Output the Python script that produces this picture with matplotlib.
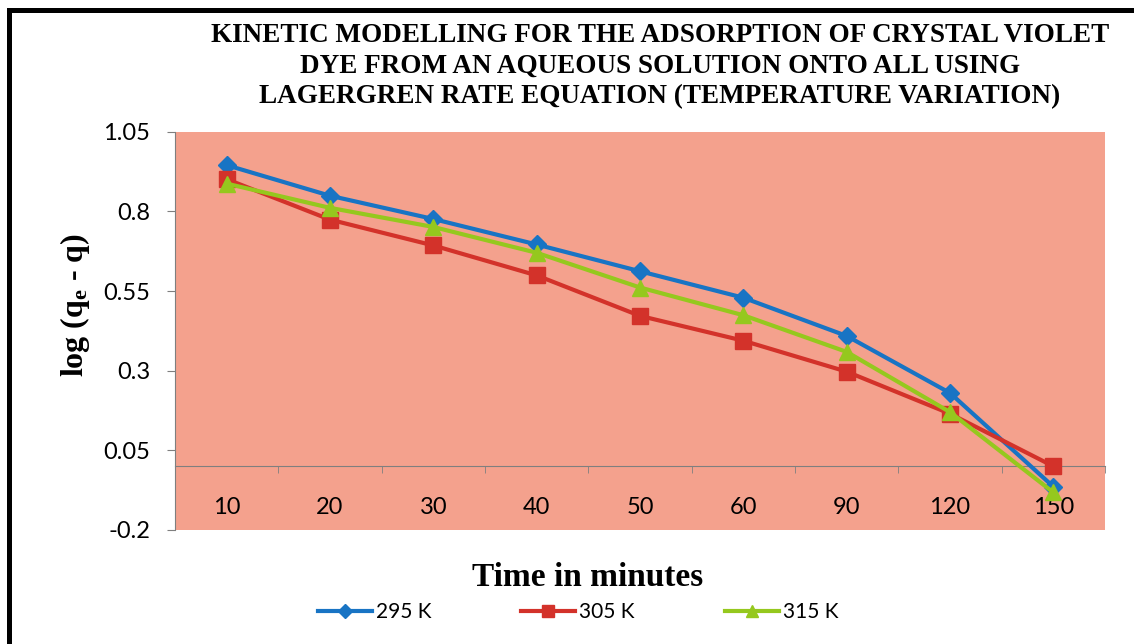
import numpy as np
import matplotlib
matplotlib.use("Agg")
import matplotlib.pyplot as plt
from matplotlib.patches import Rectangle

# data
times = ["10", "20", "30", "40", "50", "60", "90", "120", "150"]
k295 = [0.945, 0.849, 0.776, 0.696, 0.612, 0.529, 0.409, 0.230, -0.064]
k305 = [0.901, 0.774, 0.693, 0.599, 0.472, 0.394, 0.297, 0.165, 0.000]
k315 = [0.887, 0.811, 0.751, 0.670, 0.561, 0.474, 0.359, 0.170, -0.082]
labels = ["295 K", "305 K", "315 K"]
yticks = [-0.2, 0.05, 0.3, 0.55, 0.8, 1.05]

title = ("KINETIC MODELLING FOR THE ADSORPTION OF CRYSTAL VIOLET\n"
         "DYE FROM AN AQUEOUS SOLUTION ONTO ALL USING\n"
         "LAGERGREN RATE EQUATION (TEMPERATURE VARIATION)")

plt.rcParams["mathtext.fontset"] = "custom"
plt.rcParams["mathtext.rm"] = "Liberation Serif:bold"
plt.rcParams["mathtext.it"] = "Liberation Serif:bold"
plt.rcParams["mathtext.bf"] = "Liberation Serif:bold"

W, H = 1134, 644
fig = plt.figure(figsize=(W/100, H/100), dpi=100)
ax = fig.add_axes([175/W, 1-530/H, 930/W, (530-131.7)/H])
ax.set_facecolor("#F4A18D")

x = np.arange(len(times))
ax.plot(x, k295, color="#1874C4", lw=3, marker="D", ms=9, label=labels[0], zorder=3)
ax.plot(x, k305, color="#D3322A", lw=3, marker="s", ms=12, label=labels[1], zorder=3)
ax.plot(x, k315, color="#95C81E", lw=3, marker="^", ms=11, label=labels[2], zorder=4)

ax.set_xlim(-0.5, len(times)-0.5)
ax.set_ylim(-0.2, 1.05)
ax.set_yticks(yticks)
ax.set_yticklabels([f"{v:g}" for v in yticks])

for s in ["top", "right"]:
    ax.spines[s].set_visible(False)
ax.spines["bottom"].set_position(("data", 0))
ax.spines["bottom"].set_color("#7F7F7F")
ax.spines["left"].set_color("#7F7F7F")

ax.set_xticks(x)
ax.set_xticklabels(times)
ax.set_xticks(np.arange(len(times)+1)-0.5, minor=True)
ax.tick_params(axis="x", which="major", length=0, pad=22, labelsize=17,
               labelfontfamily="Lato")
ax.tick_params(axis="x", which="minor", length=5, direction="out", color="#7F7F7F")
ax.tick_params(axis="y", length=6, direction="out", color="#7F7F7F", pad=12,
               labelsize=17, labelfontfamily="Lato")

fig.text(660/W, 1-66/H, title, ha="center", va="center", family="Liberation Serif",
         weight="bold", fontsize=19.5, linespacing=1.3)
fig.text(75/W, 1-305/H, r"log (q$_{e}$ - q)", rotation=90, ha="center", va="center",
         family="Liberation Serif", weight="bold", fontsize=23)
fig.text(588/W, 1-577/H, "Time in minutes", ha="center", va="center",
         family="Liberation Serif", weight="bold", fontsize=24)

leg = fig.legend(loc="center", bbox_to_anchor=(578/W, 1-612/H), ncol=3, frameon=False,
                 prop={"family": "Lato", "size": 15}, handlelength=2.6,
                 handletextpad=0.2, columnspacing=4.3, markerscale=0.75)

fig.patches.append(Rectangle((8.5/W, -0.2), 1.5, 1.2-9.5/H, transform=fig.transFigure,
                             fill=False, lw=3.6, ec="black"))

fig.savefig("out.png", dpi=100)
